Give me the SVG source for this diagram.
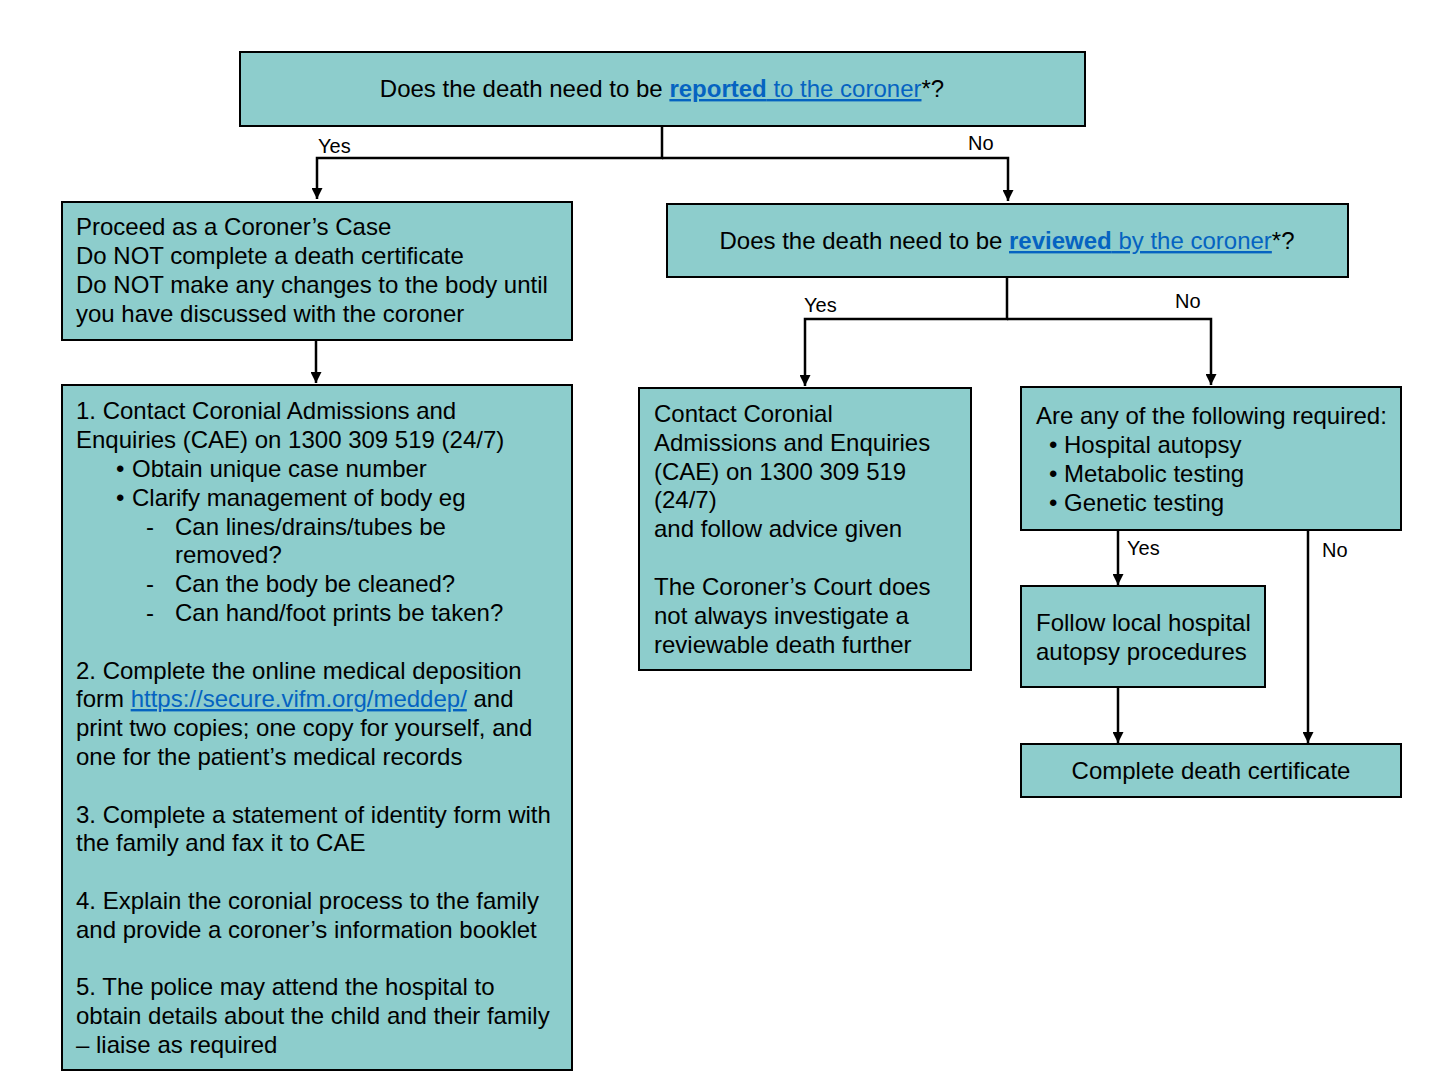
<svg xmlns="http://www.w3.org/2000/svg" width="1436" height="1072" viewBox="0 0 1436 1072">
<style>
.box{fill:#8DCDCC;stroke:#000;stroke-width:2}
.t{font-family:"Liberation Sans",Arial,sans-serif;font-size:24px;fill:#000}
.lbl{font-family:"Liberation Sans",Arial,sans-serif;font-size:20px;fill:#000}
.link{fill:#0563C1;text-decoration:underline}
.b{font-weight:bold}
.c{fill:none;stroke:#000;stroke-width:2.5}
</style>
<defs>
<marker id="ah" viewBox="0 0 10 10" markerWidth="11" markerHeight="11" refX="10" refY="5" orient="auto" markerUnits="userSpaceOnUse">
<path d="M0,0 L10,5 L0,10 z" fill="#000"/>
</marker>
</defs>
<rect width="1436" height="1072" fill="#fff"/>

<g id="connectors">
<path class="c" d="M662,126 V158 H317 V199" marker-end="url(#ah)"/>
<path class="c" d="M662,158 H1008 V201" marker-end="url(#ah)"/>
<path class="c" d="M316,340 V383" marker-end="url(#ah)"/>
<path class="c" d="M1007,277 V319 H805 V386" marker-end="url(#ah)"/>
<path class="c" d="M1007,319 H1211 V385" marker-end="url(#ah)"/>
<path class="c" d="M1118,530 V585" marker-end="url(#ah)"/>
<path class="c" d="M1308,530 V743" marker-end="url(#ah)"/>
<path class="c" d="M1118,687 V743" marker-end="url(#ah)"/>
<text class="lbl" x="318" y="153">Yes</text>
<text class="lbl" x="968" y="150">No</text>
<text class="lbl" x="804" y="312">Yes</text>
<text class="lbl" x="1175" y="308">No</text>
<text class="lbl" x="1127" y="555">Yes</text>
<text class="lbl" x="1322" y="557">No</text>
</g>

<g id="q1">
<rect class="box" x="240" y="52" width="845" height="74"/>
<text class="t" x="662" y="97" text-anchor="middle">Does the death need to be <tspan class="link b">reported</tspan><tspan class="link"> to the coroner</tspan>*?</text>
</g>

<g id="coroners-case">
<rect class="box" x="62" y="202" width="510" height="138"/>
<text class="t" x="76" y="235">Proceed as a Coroner’s Case</text>
<text class="t" x="76" y="264">Do NOT complete a death certificate</text>
<text class="t" x="76" y="293">Do NOT make any changes to the body until</text>
<text class="t" x="76" y="322">you have discussed with the coroner</text>
</g>

<g id="steps">
<rect class="box" x="62" y="385" width="510" height="685"/>
<text class="t" x="76" y="419">1. Contact Coronial Admissions and</text>
<text class="t" x="76" y="448">Enquiries (CAE) on 1300 309 519 (24/7)</text>
<text class="t" x="116" y="477">•</text><text class="t" x="132" y="477">Obtain unique case number</text>
<text class="t" x="116" y="506">•</text><text class="t" x="132" y="506">Clarify management of body eg</text>
<text class="t" x="146" y="535">-</text><text class="t" x="175" y="535">Can lines/drains/tubes be</text>
<text class="t" x="175" y="563">removed?</text>
<text class="t" x="146" y="592">-</text><text class="t" x="175" y="592">Can the body be cleaned?</text>
<text class="t" x="146" y="621">-</text><text class="t" x="175" y="621">Can hand/foot prints be taken?</text>
<text class="t" x="76" y="679">2. Complete the online medical deposition</text>
<text class="t" x="76" y="707">form <tspan class="link">https://secure.vifm.org/meddep/</tspan> and</text>
<text class="t" x="76" y="736">print two copies; one copy for yourself, and</text>
<text class="t" x="76" y="765">one for the patient’s medical records</text>
<text class="t" x="76" y="823">3. Complete a statement of identity form with</text>
<text class="t" x="76" y="851">the family and fax it to CAE</text>
<text class="t" x="76" y="909">4. Explain the coronial process to the family</text>
<text class="t" x="76" y="938">and provide a coroner’s information booklet</text>
<text class="t" x="76" y="995">5. The police may attend the hospital to</text>
<text class="t" x="76" y="1024">obtain details about the child and their family</text>
<text class="t" x="76" y="1053">– liaise as required</text>
</g>

<g id="q2">
<rect class="box" x="667" y="204" width="681" height="73"/>
<text class="t" x="1007" y="249" text-anchor="middle">Does the death need to be <tspan class="link b">reviewed</tspan><tspan class="link"> by the coroner</tspan>*?</text>
</g>

<g id="contact-cae">
<rect class="box" x="639" y="388" width="332" height="282"/>
<text class="t" x="654" y="422">Contact Coronial</text>
<text class="t" x="654" y="451">Admissions and Enquiries</text>
<text class="t" x="654" y="480">(CAE) on 1300 309 519</text>
<text class="t" x="654" y="508">(24/7)</text>
<text class="t" x="654" y="537">and follow advice given</text>
<text class="t" x="654" y="595">The Coroner’s Court does</text>
<text class="t" x="654" y="624">not always investigate a</text>
<text class="t" x="654" y="653">reviewable death further</text>
</g>

<g id="q3">
<rect class="box" x="1021" y="387" width="380" height="143"/>
<text class="t" x="1036" y="424">Are any of the following required:</text>
<text class="t" x="1049" y="453">•</text><text class="t" x="1064" y="453">Hospital autopsy</text>
<text class="t" x="1049" y="482">•</text><text class="t" x="1064" y="482">Metabolic testing</text>
<text class="t" x="1049" y="511">•</text><text class="t" x="1064" y="511">Genetic testing</text>
</g>

<g id="autopsy">
<rect class="box" x="1021" y="586" width="244" height="101"/>
<text class="t" x="1036" y="631">Follow local hospital</text>
<text class="t" x="1036" y="660">autopsy procedures</text>
</g>

<g id="certificate">
<rect class="box" x="1021" y="744" width="380" height="53"/>
<text class="t" x="1211" y="779" text-anchor="middle">Complete death certificate</text>
</g>
</svg>
